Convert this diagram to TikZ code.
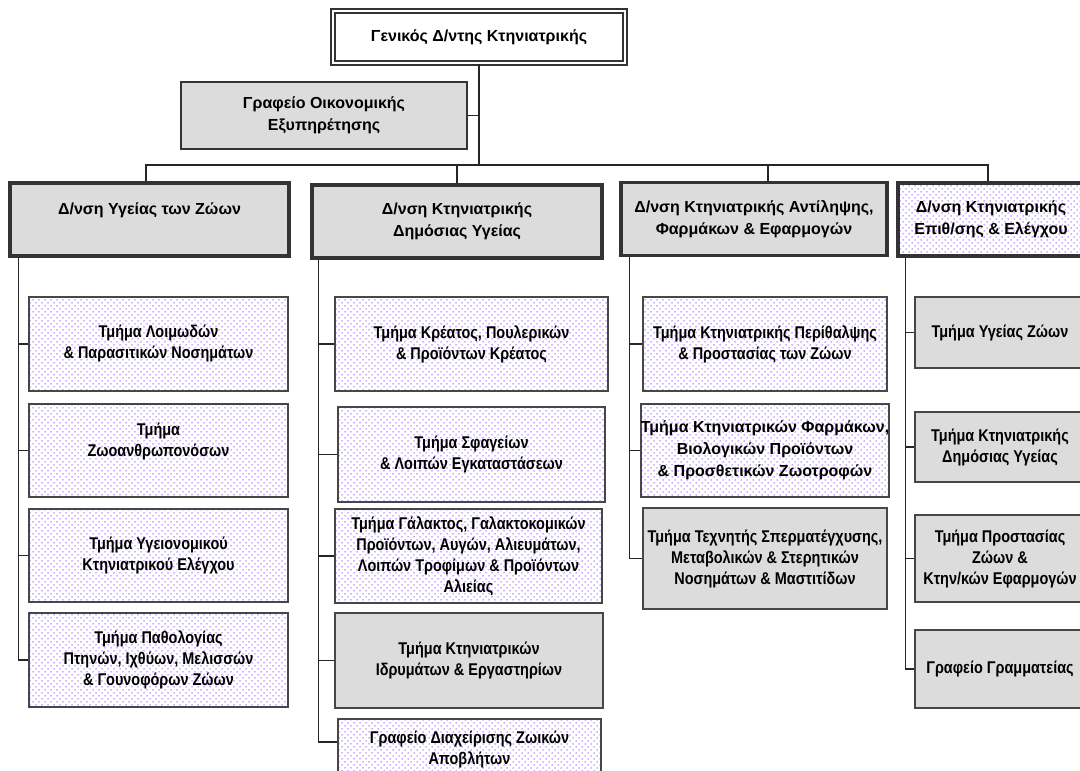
\documentclass[tikz,border=0pt]{standalone}
\usepackage{fontspec}
\setmainfont{Liberation Sans}
\newfontfamily\narrowsans[FakeStretch=0.85]{Liberation Sans}
\usetikzlibrary{patterns}

\definecolor{boxgray}{HTML}{DCDCDC}
\definecolor{dotviolet}{HTML}{9966FF}
\definecolor{edgegray}{HTML}{333333}
\newcommand\orgheadfont{\bfseries\fontsize{16}{22}\selectfont}
\newcommand\orgunitfont{\narrowsans\bfseries\fontsize{17}{21}\selectfont}

\pgfdeclarepatternformonly{deptdots}{\pgfqpoint{-.8pt}{-.8pt}}{\pgfqpoint{5.2pt}{5.2pt}}{\pgfqpoint{6pt}{6pt}}{%
  \pgfpathcircle{\pgfqpoint{0pt}{0pt}}{.75pt}%
  \pgfpathcircle{\pgfqpoint{3pt}{3pt}}{.75pt}%
  \pgfusepath{fill}}

\tikzset{
  chiefbox/.style={draw=edgegray,double=white,double distance=2pt,line width=2pt,
    minimum width=292,minimum height=52,font=\orgheadfont,align=center,inner sep=0pt},
  officebox/.style={draw=edgegray,line width=1.4pt,fill=boxgray,
    minimum width=286,minimum height=67,font=\orgheadfont,align=center,inner sep=0pt},
  dirbox/.style={draw=edgegray,line width=3.2pt,fill=boxgray,minimum height=73,
    font=\orgheadfont,align=center,inner sep=0pt},
  dirdots/.style={dirbox,fill=none,pattern=deptdots,pattern color=dotviolet},
  unitbox/.style={draw=edgegray!90,line width=1.4pt,font=\orgunitfont,align=center,inner sep=0pt},
  unitdots/.style={unitbox,pattern=deptdots,pattern color=dotviolet},
  unitgray/.style={unitbox,fill=boxgray},
  link/.style={draw=black!85,line width=1.5pt}
}

\begin{document}
\begin{tikzpicture}[x=1pt,y=-1pt]
\useasboundingbox (0,0) rectangle (1080,771);

% head of the chart
\node[chiefbox] (chief) at (479,37) {Γενικός Δ/ντης Κτηνιατρικής};
\node[officebox] (office) at (324,115.5) {Γραφείο Οικονομικής\\Εξυπηρέτησης};
\coordinate (bus) at (479,165);

% directorates
\node[dirbox,minimum width=279] (dA) at (149.5,219.5) {Δ/νση Υγείας των Ζώων\\\mbox{}};
\node[dirbox,minimum width=290] (dB) at (457,221.5) {Δ/νση Κτηνιατρικής\\Δημόσιας Υγείας};
\node[dirbox,minimum width=266] (dC) at (754,219) {Δ/νση Κτηνιατρικής Αντίληψης,\\Φαρμάκων \& Εφαρμογών};
\node[dirdots,minimum width=186] (dD) at (991,219.5) {Δ/νση Κτηνιατρικής\\Επιθ/σης \& Ελέγχου};

% departments of each directorate
\node[unitdots,minimum width=259,minimum height=94] (A1) at (158.5,344) {Τμήμα Λοιμωδών\\\& Παρασιτικών Νοσημάτων};
\node[unitdots,minimum width=259,minimum height=93] (A2) at (158.5,450.5) {Τμήμα\\Ζωοανθρωπονόσων\\\mbox{}};
\node[unitdots,minimum width=259,minimum height=93] (A3) at (158.5,555.5) {Τμήμα Υγειονομικού\\Κτηνιατρικού Ελέγχου};
\node[unitdots,minimum width=259,minimum height=94] (A4) at (158.5,660) {Τμήμα Παθολογίας\\Πτηνών, Ιχθύων, Μελισσών\\\& Γουνοφόρων Ζώων};

\node[unitdots,minimum width=273,minimum height=94] (B1) at (471.5,344) {Τμήμα Κρέατος, Πουλερικών\\\& Προϊόντων Κρέατος};
\node[unitdots,minimum width=267,minimum height=95] (B2) at (471.5,454.5) {Τμήμα Σφαγείων\\\& Λοιπών Εγκαταστάσεων};
\node[unitdots,minimum width=267,minimum height=94] (B3) at (468.5,556) {Τμήμα Γάλακτος, Γαλακτοκομικών\\Προϊόντων, Αυγών, Αλιευμάτων,\\Λοιπών Τροφίμων \& Προϊόντων\\Αλιείας};
\node[unitgray,minimum width=268,minimum height=95] (B4) at (469,660.5) {Τμήμα Κτηνιατρικών\\Ιδρυμάτων \& Εργαστηρίων};
\node[unitdots,minimum width=263,minimum height=60] (B5) at (469.5,749) {Γραφείο Διαχείρισης Ζωικών\\Αποβλήτων};

\node[unitdots,minimum width=244,minimum height=94] (C1) at (765,344) {Τμήμα Κτηνιατρικής Περίθαλψης\\\& Προστασίας των Ζώων};
\node[unitdots,minimum width=244,minimum height=93,font=\orgheadfont] (C2) at (765,450.5) {Τμήμα Κτηνιατρικών Φαρμάκων,\\Βιολογικών Προϊόντων\\\& Προσθετικών Ζωοτροφών};
\node[unitgray,minimum width=244,minimum height=101] (C3) at (765,558.5) {Τμήμα Τεχνητής Σπερματέγχυσης,\\Μεταβολικών \& Στερητικών\\Νοσημάτων \& Μαστιτίδων};

\node[unitgray,minimum width=170,minimum height=71] (D1) at (1000,332.5) {Τμήμα Υγείας Ζώων};
\node[unitgray,minimum width=170,minimum height=70] (D2) at (1000,447) {Τμήμα Κτηνιατρικής\\Δημόσιας Υγείας};
\node[unitgray,minimum width=170,minimum height=87] (D3) at (1000,558.5) {Τμήμα Προστασίας\\Ζώων \&\\Κτην/κών Εφαρμογών};
\node[unitgray,minimum width=170,minimum height=78] (D4) at (1000,669) {Γραφείο Γραμματείας};

% connectors
\coordinate (dropA) at ([xshift=-3.5]dA.north);
\coordinate (dropC) at ([xshift=14]dC.north);
\coordinate (dropD) at ([xshift=-3]dD.north);
\draw[link] (chief) -- (bus);
\draw[link] (office.east) -- (office.east -| chief.south);
\draw[link] (dropA) |- (bus) -| (dropD);
\draw[link] (bus -| dB.north) -- (dB.north);
\draw[link] (bus -| dropC) -- (dropC);

\coordinate (trA) at ([xshift=10]dA.south west);
\coordinate (trB) at ([xshift=8]dB.south west);
\coordinate (trC) at ([xshift=10]dC.south west);
\coordinate (trD) at ([xshift=9]dD.south west);
\foreach \u in {A1,A2,A3,A4} \draw[link] (trA) |- (\u.west);
\foreach \u in {B1,B2,B3,B4} \draw[link] (trB) |- (\u.west);
\draw[link] (trB) |- ([yshift=7]B5.west);
\foreach \u in {C1,C2,C3} \draw[link] (trC) |- (\u.west);
\foreach \u in {D1,D2,D3,D4} \draw[link] (trD) |- (\u.west);
\end{tikzpicture}
\end{document}
